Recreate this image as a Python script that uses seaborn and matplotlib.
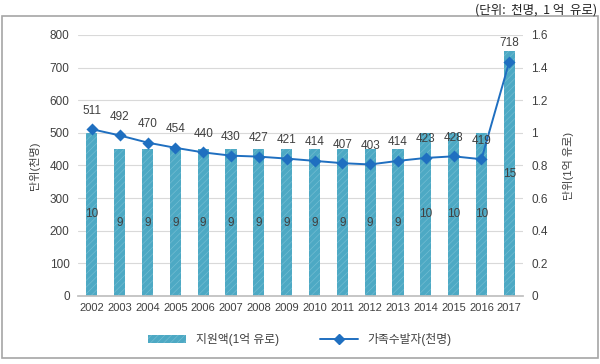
import matplotlib
matplotlib.use("Agg")
import matplotlib.pyplot as plt
import seaborn as sns
import pandas as pd
from matplotlib.patches import Patch, Rectangle
from matplotlib.lines import Line2D
from matplotlib.ticker import FuncFormatter

years = ["2002", "2003", "2004", "2005", "2006", "2007", "2008", "2009",
         "2010", "2011", "2012", "2013", "2014", "2015", "2016", "2017"]
support = [10, 9, 9, 9, 9, 9, 9, 9, 9, 9, 9, 9, 10, 10, 10, 15]          # 지원액(1억 유로)
recipients = [511, 492, 470, 454, 440, 430, 427, 421, 414, 407, 403, 414,
              423, 428, 419, 718]                                          # 가족수발자(천명)

bar_name = "지원액(1억 유로)"
line_name = "가족수발자(천명)"

df = pd.DataFrame({"year": years, "support": support, "recipients": recipients})

sns.set_theme(style="white")
FONTS = ["Liberation Sans", "Noto Sans CJK KR", "DejaVu Sans"]
plt.rcParams["font.family"] = FONTS
plt.rcParams["hatch.linewidth"] = 0.5

TXT = "#404040"
BAR = "#4DA9C4"
HATCH = "#72BCD2"
LINE = "#1F6FC0"

fig = plt.figure(figsize=(6.0, 3.64), dpi=100)
ax = fig.add_axes([0.13, 0.187, 0.742, 0.717])
ax2 = ax.twinx()

# bars on right axis (scale 0-16 shown as 0-1.6)
sns.barplot(data=df, x="year", y="support", ax=ax2, color=BAR, width=0.4,
            saturation=1, edgecolor=HATCH, linewidth=0)
for p in ax2.patches:
    p.set_hatch("/////")
    p.set_edgecolor(HATCH)
    p.set_linewidth(0)
ax2.set_ylim(0, 16)
ax2.set_yticks(range(0, 17, 2))
ax2.yaxis.set_major_formatter(FuncFormatter(lambda v, _: f"{v/10:g}"))
ax2.set_axisbelow(True)
ax2.yaxis.grid(True, color="#D9D9D9", linewidth=0.8)
ax2.set_ylabel("단위(1억 유로)", fontsize=8, color=TXT, labelpad=11, rotation=90)
for i, v in enumerate(support):
    ax2.text(i, v / 2, str(v), ha="center", va="center", fontsize=8.5, color=TXT)

# line on left axis
ax.set_zorder(ax2.get_zorder() + 1)
ax.patch.set_visible(False)
sns.pointplot(data=df, x="year", y="recipients", ax=ax, color=LINE,
              markers="D", markersize=5, linewidth=1.4)
ax.set_ylim(0, 800)
ax.set_yticks(range(0, 801, 100))
ax.set_xlim(-0.5, len(years) - 0.5)
ax.set_ylabel("단위(천명)", fontsize=8, color=TXT, labelpad=7)
ax.set_xlabel("")
ax2.set_xlabel("")
for i, v in enumerate(recipients):
    ax.annotate(str(v), (i, v), xytext=(0, 9), textcoords="offset points",
                ha="center", va="bottom", fontsize=8.5, color=TXT)

for a in (ax, ax2):
    for s in a.spines.values():
        s.set_visible(False)
    a.tick_params(axis="both", length=0, labelsize=8.5, labelcolor=TXT, pad=6)
ax.spines["bottom"].set_visible(True)
ax.spines["bottom"].set_color("#BFBFBF")
ax.tick_params(axis="x", labelsize=8, pad=5)

# legend
handles = [Patch(facecolor=BAR, edgecolor=HATCH, hatch="/////", linewidth=0),
           Line2D([0], [0], color=LINE, marker="D", markersize=5, linewidth=1.4)]
fig.legend(handles, [bar_name, line_name], loc="center", bbox_to_anchor=(0.5, 0.066),
           ncol=2, frameon=False, fontsize=8.5, handlelength=3.2, columnspacing=3.5,
           labelcolor=TXT)

# frame and unit note
fig.patches.append(Rectangle((0.003, 0.017), 0.993, 0.939, transform=fig.transFigure,
                             fill=False, edgecolor="#A6A6A6", linewidth=1.2))
fig.text(0.996, 0.99, "(단위:  천명,  1 억  유로)", ha="right", va="top",
         fontsize=9, color="#222222", family=["Noto Sans CJK KR", "DejaVu Sans"])

fig.savefig("out.png", dpi=100)
